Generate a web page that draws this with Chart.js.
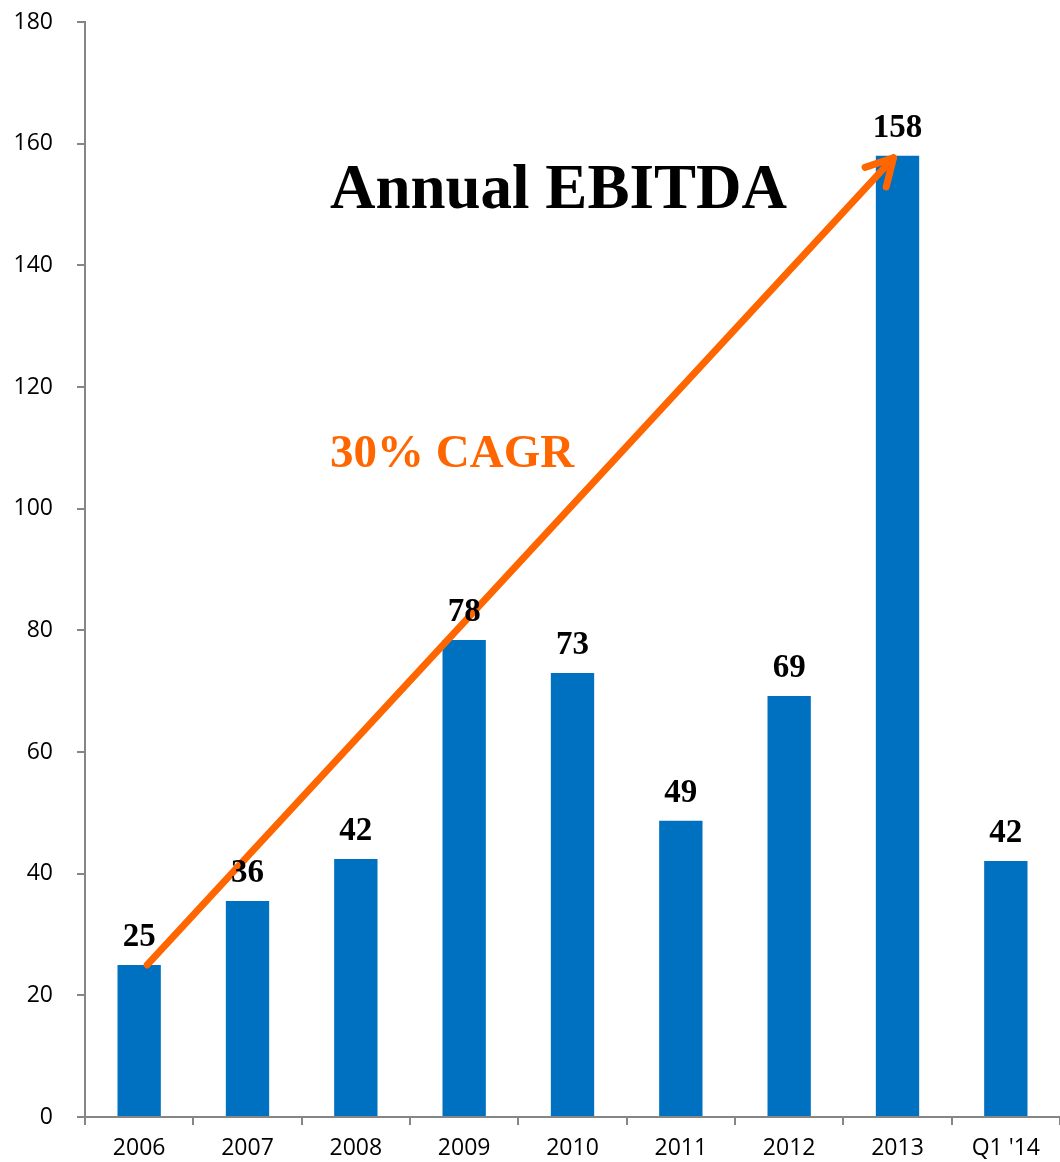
<!DOCTYPE html>
<html>
<head>
<meta charset="utf-8">
<title>Annual EBITDA</title>
<script src="https://cdn.jsdelivr.net/npm/chart.js@4.4.1/dist/chart.umd.min.js"></script>
<style>
    html, body { margin: 0; padding: 0; background: #fff; }
    #wrap { position: relative; width: 1060px; height: 1162px; }
</style>
</head>
<body>
<div id="wrap"><canvas id="ebitdaChart"></canvas></div>
<script>
// Chart data
const years = ['2006', '2007', '2008', '2009', '2010', '2011', '2012', '2013', "Q1 '14"];
const ebitda = [25, 35.5, 42.4, 78.4, 73, 48.7, 69.2, 158, 42.1];
const barLabels = ['25', '36', '42', '78', '73', '49', '69', '158', '42'];
const yTicks = [0, 20, 40, 60, 80, 100, 120, 140, 160, 180];

const axisGray = '#868686';
const barBlue = '#0070C0';
const orange = '#FF6600';

// Growth arrow (over the bars) + titles
const annotations = {
    id: 'annotations',
    afterDatasetsDraw(chart) {
        const ctx = chart.ctx;
        const x = chart.scales.x;
        const y = chart.scales.y;
        const x0 = x.getPixelForValue(0) + 8;
        const y0 = y.getPixelForValue(ebitda[0]);
        const x1 = x.getPixelForValue(7) - 4;
        const y1 = y.getPixelForValue(ebitda[7]) + 2;

        ctx.save();
        ctx.strokeStyle = orange;
        ctx.lineWidth = 7;
        ctx.lineCap = 'round';
        ctx.lineJoin = 'round';
        ctx.beginPath();
        ctx.moveTo(x0, y0);
        ctx.lineTo(x1, y1);
        ctx.stroke();

        const ang = Math.atan2(y1 - y0, x1 - x0);
        const head = 30;
        ctx.beginPath();
        ctx.moveTo(x1 - head * Math.cos(ang - 0.5), y1 - head * Math.sin(ang - 0.5));
        ctx.lineTo(x1, y1);
        ctx.lineTo(x1 - head * Math.cos(ang + 0.5), y1 - head * Math.sin(ang + 0.5));
        ctx.stroke();

        ctx.textAlign = 'left';
        ctx.textBaseline = 'alphabetic';
        ctx.fillStyle = '#000';
        ctx.font = 'bold 63px "Liberation Serif", "Times New Roman", serif';
        ctx.fillText('Annual EBITDA', 330, 208);

        ctx.fillStyle = orange;
        ctx.font = 'bold 47px "Liberation Serif", "Times New Roman", serif';
        ctx.fillText('30% CAGR', 330, 467);
        ctx.restore();
    }
};

// Value labels above each bar (on top of the arrow)
const barValueLabels = {
    id: 'barValueLabels',
    afterDraw(chart) {
        const ctx = chart.ctx;
        const meta = chart.getDatasetMeta(0);
        ctx.save();
        ctx.font = 'bold 33px "Liberation Serif", "Times New Roman", serif';
        ctx.fillStyle = '#000';
        ctx.textAlign = 'center';
        ctx.textBaseline = 'bottom';
        meta.data.forEach((bar, i) => {
            ctx.fillText(barLabels[i], bar.x, bar.y - 11);
        });
        ctx.restore();
    }
};

const ctx = document.getElementById('ebitdaChart');
new Chart(ctx, {
    type: 'bar',
    data: {
        labels: years,
        datasets: [{
            label: 'EBITDA',
            data: ebitda,
            backgroundColor: barBlue,
            borderWidth: 0,
            categoryPercentage: 1,
            barPercentage: 0.4
        }]
    },
    options: {
        responsive: true,
        maintainAspectRatio: false,
        animation: false,
        layout: { padding: { top: 22, right: 0, left: 0, bottom: 0 } },
        plugins: {
            legend: { display: false },
            tooltip: { enabled: false }
        },
        scales: {
            y: {
                min: 0,
                max: 180,
                afterBuildTicks(scale) {
                    scale.ticks = yTicks.map(v => ({ value: v }));
                },
                afterFit(scale) {
                    scale.width = 85;
                    scale.paddingTop = 0;
                    scale.paddingBottom = 0;
                },
                ticks: {
                    color: '#000',
                    padding: 24,
                    font: { family: '"Open Sans", sans-serif', size: 23 }
                },
                grid: {
                    drawOnChartArea: false,
                    drawTicks: true,
                    tickLength: 8,
                    color: axisGray,
                    lineWidth: 2
                },
                border: { display: true, color: axisGray, width: 2 }
            },
            x: {
                afterFit(scale) {
                    scale.height = 45;
                    scale.paddingLeft = 0;
                    scale.paddingRight = 0;
                },
                ticks: {
                    color: '#000',
                    padding: 10,
                    maxRotation: 0,
                    font: { family: '"Open Sans", sans-serif', size: 23 }
                },
                grid: {
                    offset: true,
                    drawOnChartArea: false,
                    drawTicks: true,
                    tickLength: 8,
                    color: axisGray,
                    lineWidth: 2
                },
                border: { display: true, color: axisGray, width: 2 }
            }
        }
    },
    plugins: [annotations, barValueLabels]
});
</script>
</body>
</html>
